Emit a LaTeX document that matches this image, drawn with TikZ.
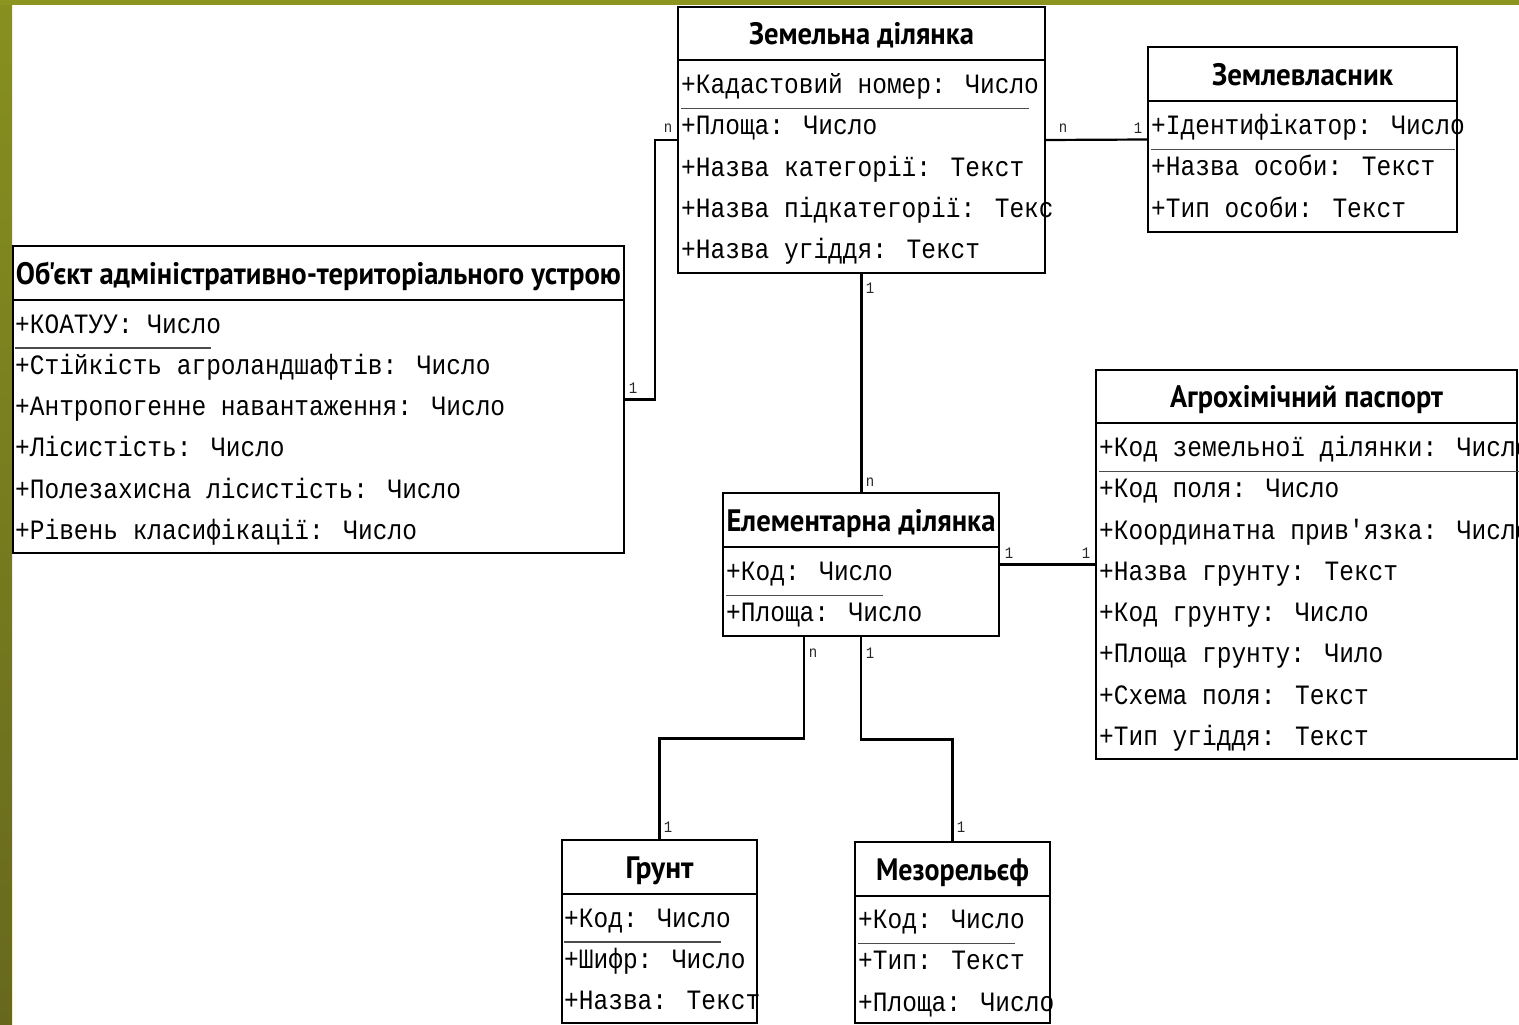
\documentclass[tikz,border=0pt]{standalone}
\usepackage{fontspec}
\usepackage{graphicx}
\newfontfamily\attrfont[FakeStretch=0.875]{Liberation Mono}
\newfontfamily\ttlfont[Ligatures=TeXOff]{PT Sans}
\definecolor{olivetop}{HTML}{8B951F}
\definecolor{olivemid}{HTML}{87901F}
\definecolor{olivebot}{HTML}{67681E}
\tikzset{
  box/.style={draw=black, line width=2.2pt, fill=white, outer sep=0pt, inner sep=0pt, anchor=north west},
  hline/.style={line width=2.2pt},
  conn/.style={line width=2.2pt},
  sepline/.style={line width=1.2pt, draw=black!70},
  ttl/.style={inner sep=0pt, anchor=base, font=\ttlfont\bfseries\fontsize{31}{31}\selectfont},
  attr/.style={inner sep=0pt, anchor=base west, font=\attrfont\fontsize{28}{28}\selectfont},
  mult/.style={inner sep=0pt, font=\attrfont\fontsize{16}{16}\selectfont, text=black!85},
}
% name, left, top, right, header bottom, bottom, title width, title
\newcommand\umlbox[8]{%
  \node[box, minimum width={(#4)-(#2)}, minimum height={(#6)-(#3)}] (#1) at (#2,#3) {};
  \draw[hline] (#2,#5) -- (#4,#5);
  \node[ttl] (#1-title) at ({(#2+#4)/2},{(#3+#5)/2+11}) {\resizebox{#7pt}{\height}{#8}};
}
% name, x, first row centre, list of rows
\newcommand\umlattrs[4]{%
  \foreach \t [count=\i] in {#4} {
    \node[attr] (#1-a\i) at (#2, {#3 + 9.5 + (\i-1)*41.25}) {\t};
  }
  \draw[sepline] ([yshift=-15pt]#1-a1.base west) -- ([yshift=-15pt,xshift=-10pt]#1-a1.base east);
}
\begin{document}
\begin{tikzpicture}[x=1pt,y=-1pt]
\useasboundingbox (0,0) rectangle (1519,1025);
\fill[white] (0,0) rectangle (1519,1025);
\shade[top color=olivemid, bottom color=olivebot] (0,0) rectangle (12,1025);
\fill[olivetop] (0,0) rectangle (1519,5);

% boxes
\umlbox{zem}{678}{7}{1045}{60}{273}{225}{Земельна ділянка}
\umlattrs{zem}{681}{84}{+Кадастовий номер: Число, +Площа: Число, +Назва категорії: Текст, +Назва підкатегорії: Текс, +Назва угіддя: Текст}

\umlbox{vlas}{1148}{47}{1457}{101}{232}{181}{Землевласник}
\umlattrs{vlas}{1151}{125}{+Ідентифікатор: Число, +Назва особи: Текст, +Тип особи: Текст}

\umlbox{obj}{13}{246}{624}{300}{553}{605}{Об'єкт адміністративно-територіального устрою}
\umlattrs{obj}{15}{323.5}{+КОАТУУ: Число, +Стійкість агроландшафтів: Число, +Антропогенне навантаження: Число, +Лісистість: Число, +Полезахисна лісистість: Число, +Рівень класифікації: Число}

\umlbox{agro}{1096}{370}{1517}{423}{759}{273}{Агрохімічний паспорт}
\umlattrs{agro}{1099}{447}{+Код земельної ділянки: Число, +Код поля: Число, +Координатна прив'язка: Число, +Назва грунту: Текст, +Код грунту: Число, +Площа грунту: Чило, +Схема поля: Текст, +Тип угіддя: Текст}

\umlbox{el}{723}{493}{999}{547}{636}{269}{Елементарна ділянка}
\umlattrs{el}{726}{571}{+Код: Число, +Площа: Число}

\umlbox{grunt}{562}{840}{757}{894}{1023}{68}{Грунт}
\umlattrs{grunt}{564}{917.5}{+Код: Число, +Шифр: Число, +Назва: Текст}

\umlbox{mezo}{855}{842}{1050}{896}{1023}{153}{Мезорельєф}
\umlattrs{mezo}{858}{919}{+Код: Число, +Тип: Текст, +Площа: Число}

% connectors
\draw[conn] (obj.east) -- ++(31,0) |- (zem.west);
\draw[conn] (zem.east) -- (vlas.west);
\draw[conn] (zem.south) -- (zem.south |- el.north);
\draw[conn] (el.east) -- (agro.west);
\draw[conn] ([xshift=81pt]el.south west) -- ++(0,102.5) -| (grunt.north);
\draw[conn] (el.south) -- ++(0,103.5) -| (mezo.north);

% multiplicities
\node[mult] (m1) at (633,388) {1};
\node[mult] (m2) at (668,128) {n};
\node[mult] (m3) at (1063,128) {n};
\node[mult] (m4) at (1138,128) {1};
\node[mult] (m5) at (870,288) {1};
\node[mult] (m6) at (870,482) {n};
\node[mult] (m7) at (1009,553) {1};
\node[mult] (m8) at (1086,553) {1};
\node[mult] (m9) at (813,653) {n};
\node[mult] (m10) at (870,653) {1};
\node[mult] (m11) at (668,827) {1};
\node[mult] (m12) at (961,827) {1};
\end{tikzpicture}
\end{document}
